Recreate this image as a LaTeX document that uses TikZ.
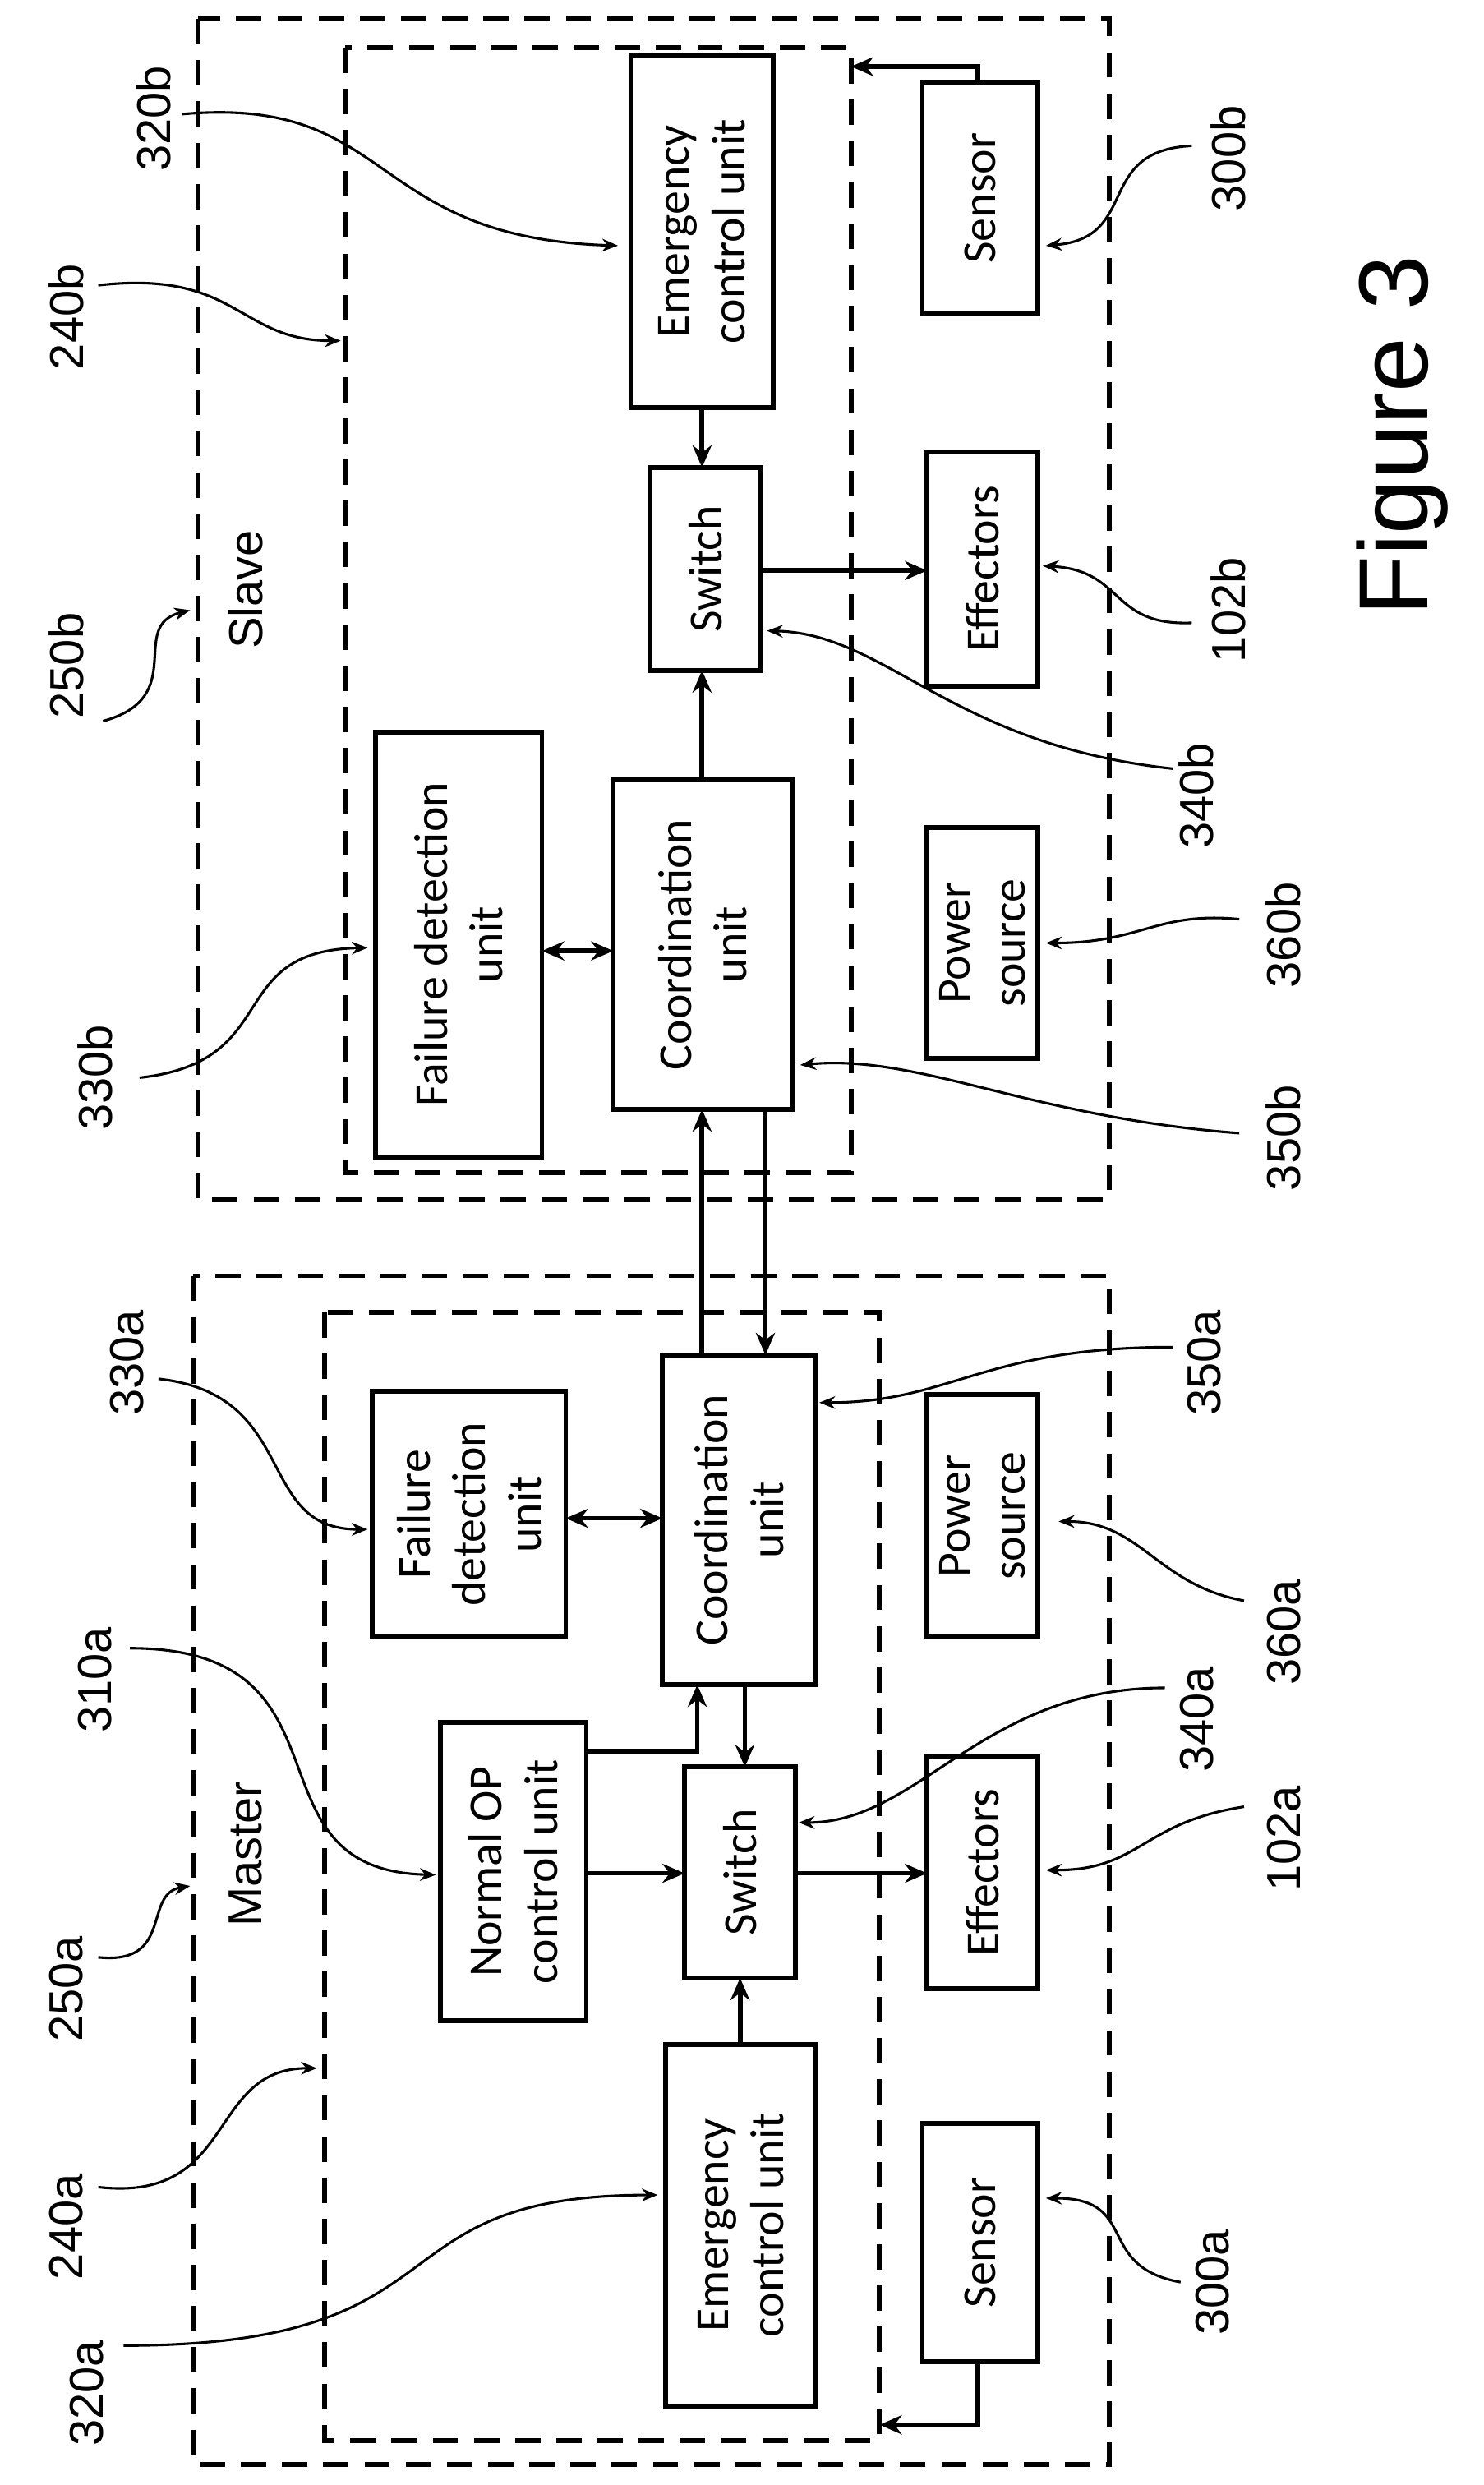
\documentclass[tikz,border=0pt]{standalone}
\usepackage{fontspec}
\setmainfont{Carlito}
\newfontfamily\lab{Liberation Sans}
\usetikzlibrary{arrows.meta}
\newcommand{\bx}[6]{\draw[box] (#2,#3) rectangle (#4,#5); \node[txt] (#1) at ({(#2+#4)/2},{(#3+#5)/2}) {#6};}
\begin{document}
\begin{tikzpicture}[x=1pt,y=-1pt,
 box/.style={draw,line width=3pt,inner sep=0pt},
 txt/.style={rotate=90,align=center,font=\fontsize{30}{35}\selectfont},
 lbl/.style={rotate=90,font=\lab\fontsize{30}{35}\selectfont},
 dsh/.style={line width=3pt,dash pattern=on 16pt off 10pt},
 ar/.style={line width=3pt,-{Stealth[length=14pt,width=12pt]}},
 dar/.style={line width=3pt,{Stealth[length=14pt,width=12pt]}-{Stealth[length=14pt,width=12pt]}},
 ld/.style={line width=1.6pt,-{Stealth[length=10pt,width=8pt]}}]
\useasboundingbox (0,0) rectangle (936,1568);
% dashed boxes
\draw[dsh] (125,12) rectangle (700,757);
\draw[dsh] (218,30) rectangle (537,740);
\draw[dsh] (122,805) rectangle (700,1555);
\draw[dsh] (205,828) rectangle (555,1540);
% slave
\bx{emb}{398}{35}{488}{257}{Emergency\\control unit}
\bx{senb}{582}{52}{655}{198}{Sensor}
\bx{swb}{410}{295}{480}{423}{Switch}
\bx{effb}{585}{285}{655}{433}{Effectors}
\bx{fdb}{237}{462}{342}{730}{Failure detection\\unit}
\bx{cob}{387}{492}{500}{700}{Coordination\\unit}
\bx{psb}{585}{522}{655}{668}{Power\\source}
% master
\bx{fda}{235}{878}{357}{1033}{Failure\\detection\\unit}
\bx{coa}{418}{855}{515}{1063}{Coordination\\unit}
\bx{nop}{278}{1087}{370}{1275}{Normal OP\\control unit}
\bx{swa}{432}{1115}{502}{1248}{Switch}
\bx{effa}{585}{1108}{655}{1255}{Effectors}
\bx{psa}{585}{880}{655}{1033}{Power\\source}
\bx{ema}{420}{1290}{515}{1518}{Emergency\\control unit}
\bx{sena}{582}{1340}{655}{1490}{Sensor}
% arrows slave
\coordinate (sbin) at (537,42);
\draw[ar] (617,52) -- (617,42) -- (sbin);
\draw[ar] (443,257) -- (443,295);
\draw[ar] (480,360) -- (585,360);
\draw[ar] (443,492) -- (443,423);
\draw[dar] (342,600) -- (387,600);
\draw[ar] (443,855) -- (443,700);
\draw[ar] (483,700) -- (483,855);
% arrows master
\draw[dar] (357,958) -- (418,958);
\draw[ar] (370,1105) -- (440,1105) -- (440,1063);
\draw[ar] (470,1063) -- (470,1115);
\draw[ar] (370,1182) -- (432,1182);
\draw[ar] (502,1182) -- (585,1182);
\draw[ar] (467,1290) -- (467,1248);
\coordinate (sain) at (555,1530);
\draw[ar] (617,1490) -- (617,1530) -- (sain);
% labels
\node[lbl] (l320b) at (97,75) {320b};
\node[lbl] (l240b) at (42,200) {240b};
\node[lbl] (l250b) at (42,420) {250b};
\node[lbl] (l330b) at (60,680) {330b};
\node[lbl] (l300b) at (775,100) {300b};
\node[lbl] (l102b) at (775,385) {102b};
\node[lbl] (l340b) at (755,502) {340b};
\node[lbl] (l360b) at (810,590) {360b};
\node[lbl] (l350b) at (810,718) {350b};
\node[lbl] (l330a) at (80,860) {330a};
\node[lbl] (l310a) at (60,1060) {310a};
\node[lbl] (l250a) at (42,1255) {250a};
\node[lbl] (l240a) at (42,1405) {240a};
\node[lbl] (l320a) at (55,1510) {320a};
\node[lbl] (l350a) at (760,860) {350a};
\node[lbl] (l360a) at (810,1030) {360a};
\node[lbl] (l340a) at (755,1085) {340a};
\node[lbl] (l102a) at (810,1160) {102a};
\node[lbl] (l300a) at (765,1440) {300a};
\node[lbl] (slave) at (155,372) {Slave};
\node[lbl] (master) at (155,1170) {Master};
\node[rotate=90,font=\lab\fontsize{62}{70}\selectfont] (fig) at (885,275) {Figure 3};
% leaders
\draw[ld] (115,72) .. controls (250,60) and (230,150) .. (390,155);
\draw[ld] (62,180) .. controls (150,170) and (150,215) .. (215,215);
\draw[ld] (65,455) .. controls (120,440) and (80,395) .. (120,385);
\draw[ld] (88,680) .. controls (180,670) and (140,600) .. (232,598);
\draw[ld] (752,92) .. controls (690,95) and (720,150) .. (660,155);
\draw[ld] (752,393) .. controls (700,395) and (710,360) .. (658,357);
\draw[ld] (740,485) .. controls (600,470) and (560,400) .. (484,398);
\draw[ld] (782,580) .. controls (730,575) and (720,595) .. (660,595);
\draw[ld] (782,715) .. controls (650,705) and (580,665) .. (505,672);
\draw[ld] (100,870) .. controls (190,880) and (160,965) .. (232,965);
\draw[ld] (82,1040) .. controls (230,1040) and (150,1180) .. (275,1183);
\draw[ld] (62,1235) .. controls (110,1240) and (90,1195) .. (120,1190);
\draw[ld] (62,1380) .. controls (150,1390) and (130,1305) .. (200,1305);
\draw[ld] (78,1480) .. controls (300,1480) and (230,1385) .. (415,1385);
\draw[ld] (740,850) .. controls (620,850) and (600,885) .. (517,885);
\draw[ld] (785,1010) .. controls (730,1000) and (720,960) .. (668,960);
\draw[ld] (735,1065) .. controls (620,1065) and (580,1150) .. (504,1150);
\draw[ld] (785,1140) .. controls (720,1150) and (720,1180) .. (660,1180);
\draw[ld] (745,1440) .. controls (690,1430) and (720,1387) .. (660,1387);
\end{tikzpicture}
\end{document}
